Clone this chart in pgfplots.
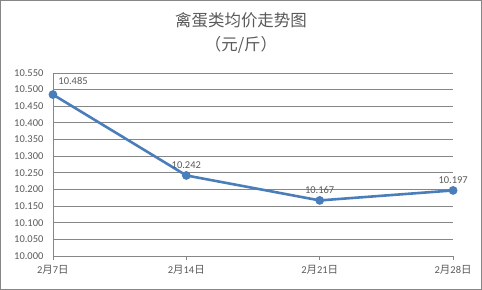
\documentclass[border=0pt]{standalone}
\usepackage{pgfplots}
\pgfplotsset{compat=1.18}
\usepackage{fontspec}
\setmainfont{Carlito}
\newfontfamily\cjk{Noto Sans CJK SC}
\definecolor{linec}{RGB}{74,126,187}
\definecolor{gridc}{RGB}{134,134,134}
\definecolor{txt}{RGB}{89,89,89}
\begin{document}
\begin{tikzpicture}[x=1bp,y=1bp]
\draw[gridc,line width=0.8bp] (0.5,0.5) rectangle (481.5,289.5);
\node[txt,font=\cjk\fontsize{16.5}{18}\selectfont] at (241,270) {禽蛋类均价走势图};
\node[txt,font=\cjk\fontsize{16.5}{18}\selectfont] at (241,245) {（元/斤）};
\begin{axis}[
  at={(53bp,34bp)}, anchor=south west,
  scale only axis, width=400bp, height=183bp,
  xmin=0, xmax=3, ymin=10, ymax=10.55,
  xtick={0,1,2,3},
  xticklabels={{2{\cjk 月}7{\cjk 日}},{2{\cjk 月}14{\cjk 日}},{2{\cjk 月}21{\cjk 日}},{2{\cjk 月}28{\cjk 日}}},
  ytick={10,10.05,...,10.56},
  yticklabel={\pgfmathprintnumber[fixed,fixed zerofill,precision=3]{\tick}},
  /pgf/number format/assume math mode=true,
  ymajorgrids, major grid style={gridc,line width=0.8bp},
  axis x line*=bottom, axis y line*=left,
  axis line style={gridc,line width=0.8bp},
  x axis line style={-}, y axis line style={-},
  xtick style={gridc,line width=0.8bp}, ytick style={draw=none},
  tick align=outside, major tick length=4bp,
  xtick pos=bottom,
  ticklabel style={txt,font=\fontsize{10.5}{12}\selectfont},
  yticklabel style={xshift=-2bp},
  xticklabel style={yshift=-2bp},
  clip=false,
]
\addplot[linec, line width=2.6bp, mark=*, mark size=3bp, mark options={fill=linec,draw=linec}]
  coordinates {(0,10.485) (1,10.242) (2,10.167) (3,10.197)};
\addplot[draw=none, nodes near coords, point meta=explicit symbolic,
  nodes near coords style={txt,font=\fontsize{10.5}{12}\selectfont,anchor=south west,xshift=2bp,yshift=6bp}]
  coordinates {(0,10.485) [10.485]};
\addplot[draw=none, nodes near coords, point meta=explicit symbolic,
  nodes near coords style={txt,font=\fontsize{10.5}{12}\selectfont,anchor=south,yshift=3bp}]
  coordinates {(1,10.242) [10.242] (2,10.167) [10.167] (3,10.197) [10.197]};
\end{axis}
\end{tikzpicture}
\end{document}
